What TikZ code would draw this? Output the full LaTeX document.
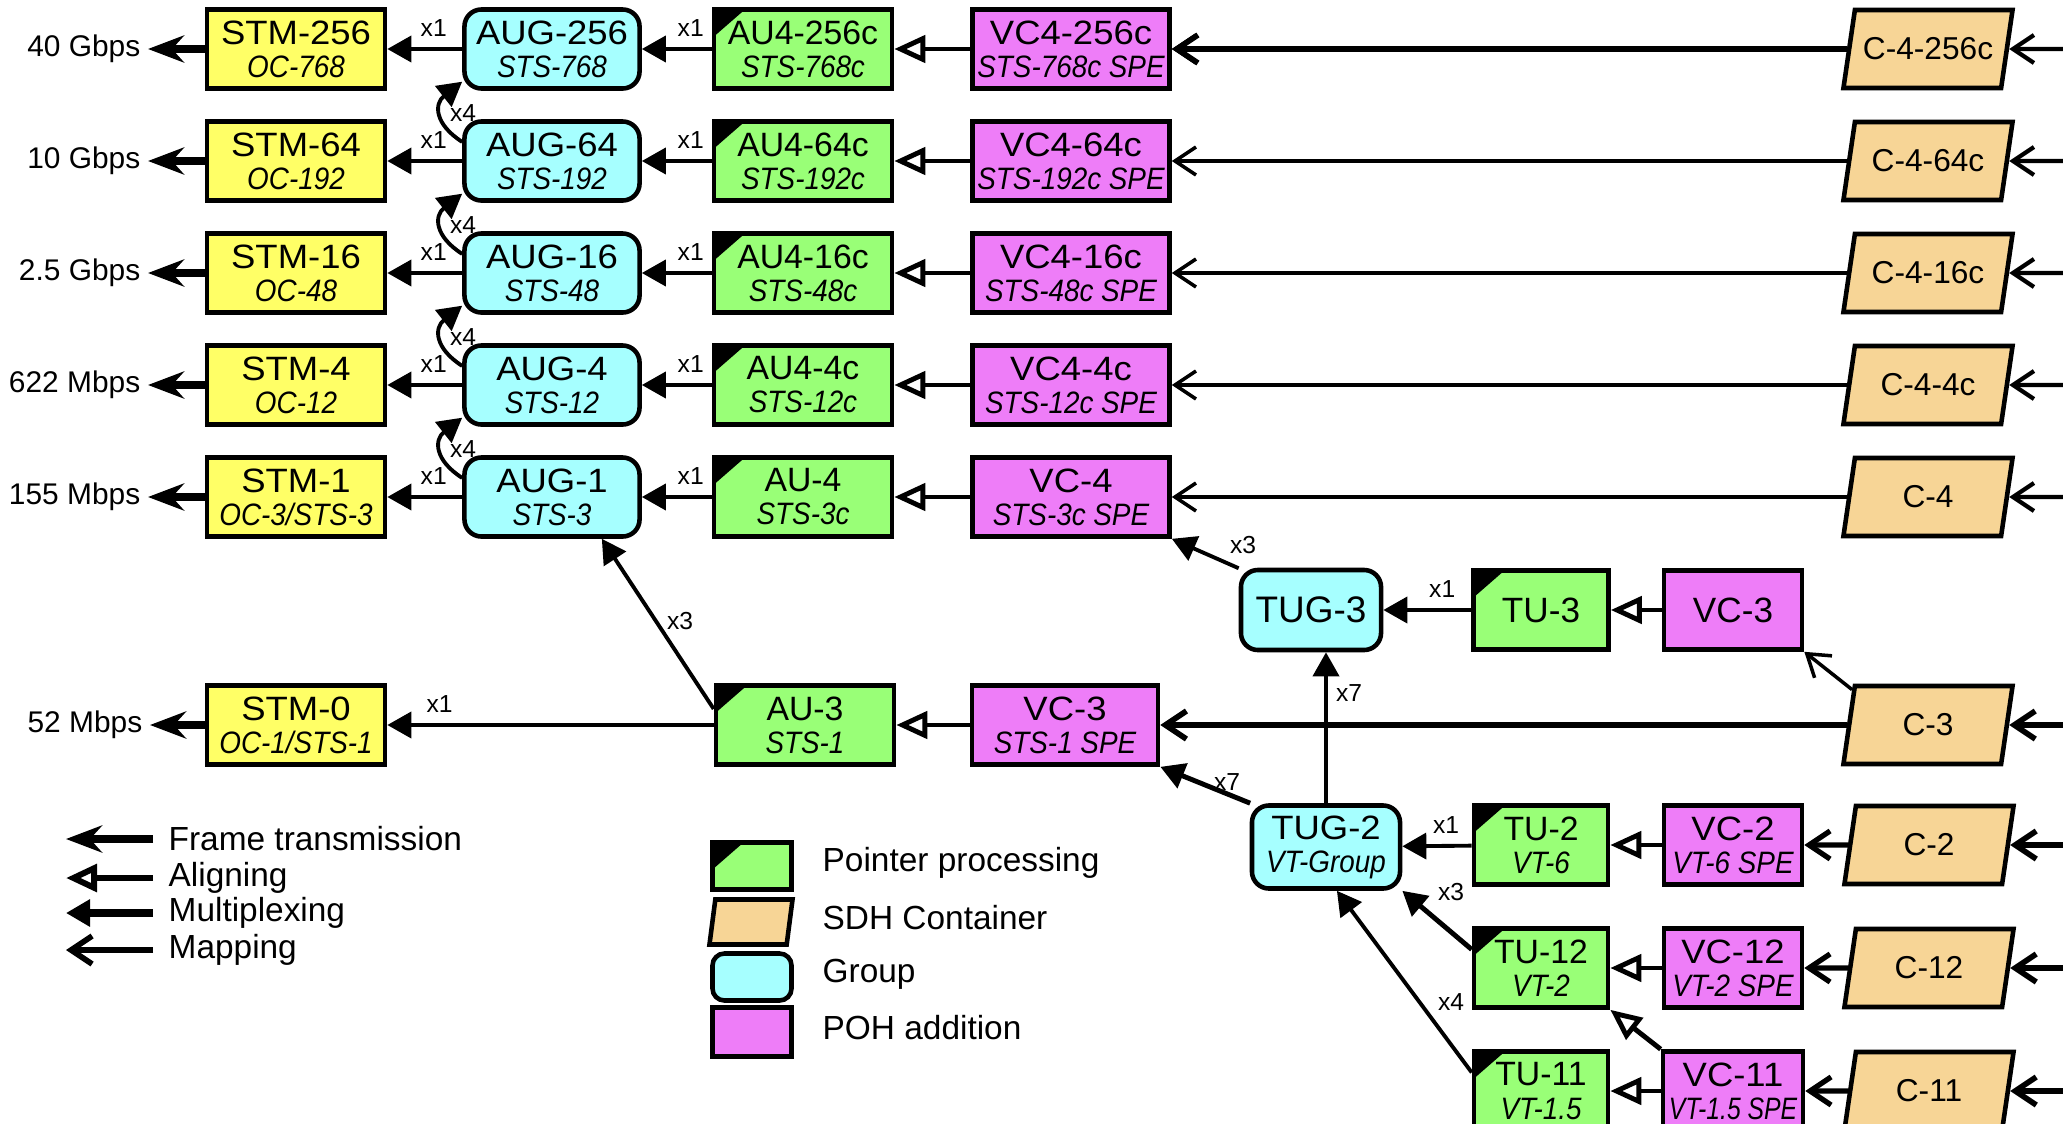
\documentclass[tikz,border=0pt]{standalone}
\usepackage{fontspec}
\setmainfont{Liberation Sans}
\newfontfamily\narrowsans[FakeStretch=0.9]{Liberation Sans}
\newfontfamily\tightsans[FakeStretch=0.8]{Liberation Sans}
\newfontfamily\widesans[FakeStretch=1.08]{Liberation Sans}
\usepackage{xcolor}
\usetikzlibrary{arrows.meta, positioning, shapes.geometric}

\definecolor{stmyellow}{RGB}{255,255,102}
\definecolor{ptrgreen}{RGB}{153,255,119}
\definecolor{grpcyan}{RGB}{166,255,255}
\definecolor{pohpink}{RGB}{238,125,248}
\definecolor{conttan}{RGB}{247,213,150}

\newcommand{\secline}[1]{{\fontsize{8.8}{9.4}\selectfont\narrowsans\itshape #1}}

\tikzset{
  box/.style={draw, line width=1.3pt, inner sep=0pt, align=center,
    minimum height=0.79cm, font=\fontsize{9.6}{9.4}\selectfont\widesans},
  stm/.style={box, fill=stmyellow, minimum width=1.78cm},
  grp/.style={box, fill=grpcyan, rounded corners=0.17cm, minimum width=1.75cm},
  ptr/.style={box, fill=ptrgreen, minimum width=1.78cm,
    font=\fontsize{9.6}{9.4}\selectfont,
    path picture={\fill[black] (path picture bounding box.north west)
      -- ++(0.31cm,0) -- ++(-0.31cm,-0.27cm) -- cycle;}},
  poh/.style={box, fill=pohpink, minimum width=1.97cm},
  cont/.style={trapezium, trapezium left angle=76, trapezium right angle=104,
    trapezium stretches body, draw, line width=1.3pt, fill=conttan,
    minimum height=0.78cm, minimum width=1.69cm, inner xsep=0pt,
    font=\fontsize{9}{10}\selectfont},
  rate/.style={anchor=east, inner sep=2pt, font=\fontsize{8.5}{10}\selectfont},
  mult/.style={inner sep=0pt, font=\fontsize{7}{8}\selectfont},
  legtext/.style={anchor=west, inner sep=0pt, font=\fontsize{9.5}{11}\selectfont},
  framearr/.style={-{Stealth[length=3.6mm, width=2.7mm, inset=1.2mm]}, line width=2.2pt},
  muxarr/.style={-{Triangle[length=2.4mm, width=2.6mm]}, line width=1.1pt},
  alignarr/.style={-{Triangle[open, length=3.1mm, width=2.7mm]}, line width=1.4pt},
  maparr/.style={-{Straight Barb[length=2.1mm, width=2.8mm]}, line width=1pt}
}

\begin{document}
\begin{tikzpicture}[x=0.01cm, y=-0.01cm]
\useasboundingbox (0,0) rectangle (2063,1124);
\clip (0,0) rectangle (2063,1124);
\fill[white] (0,0) rectangle (2063,1124);

% AU-4 rows
\foreach \y/\n/\oc/\rt in {49/256/768/40 Gbps, 161/64/192/10 Gbps,
                           273/16/48/2.5 Gbps, 385/4/12/622 Mbps}{
  \node[rate] (rate\n) at (148,\y) {\rt};
  \node[stm] (stm\n) at (296,\y) {STM-\n\\\secline{OC-\oc}};
  \node[grp] (aug\n) at (552,\y) {AUG-\n\\\secline{STS-\oc}};
  \node[ptr] (au\n) at (803,\y) {AU4-\n c\\\secline{STS-\oc c}};
  \node[poh] (vc\n) at (1071,\y) {VC4-\n c\\\secline{STS-\oc c SPE}};
  \node[cont] (c\n) at (1928,\y) {C-4-\n c};
  \coordinate (in\n) at (2063,\y);
}
\node[rate] (rate1) at (148,497) {155 Mbps};
\node[stm] (stm1) at (296,497) {STM-1\\\secline{OC-3/STS-3}};
\node[grp] (aug1) at (552,497) {AUG-1\\\secline{STS-3}};
\node[ptr] (au1) at (803,497) {AU-4\\\secline{STS-3c}};
\node[poh] (vc1) at (1071,497) {VC-4\\\secline{STS-3c SPE}};
\node[cont] (c1) at (1928,497) {C-4};
\coordinate (in1) at (2063,497);

\foreach \n in {256,64,16,4,1}{
  \draw[framearr] (stm\n) -- (rate\n);
  \draw[muxarr] (aug\n) -- node[mult, pos=0.38, above=3pt] (ma\n) {x1} (stm\n);
  \draw[muxarr] (au\n) -- node[mult, pos=0.3, above=3pt] (mb\n) {x1} (aug\n);
  \draw[alignarr] (vc\n) -- (au\n);
  \draw[maparr] (c\n) -- (vc\n);
  \draw[maparr, line width=1.2pt] (in\n) -- (c\n);
}
\draw[maparr, line width=1.6pt] (c256) -- (vc256);
\foreach \lo/\hi in {64/256, 16/64, 4/16, 1/4}{
  \draw[muxarr] (aug\lo.168) .. controls +(-28,-18) and +(-28,22) .. (aug\hi.200)
    node[mult, pos=0.5, right=2pt] (mq\lo) {x4};
}

% AU-3 / TUG-3 part
\node[rate] (rate0) at (150,725) {52 Mbps};
\node[stm] (stm0) at (296,725) {STM-0\\\secline{OC-1/STS-1}};
\node[ptr] (au3) at (805,725) {AU-3\\\secline{STS-1}};
\node[poh, minimum width=1.86cm] (vc3s) at (1065,725) {VC-3\\\secline{STS-1 SPE}};
\node[cont] (c3) at (1928,725) {C-3};
\coordinate (in3) at (2063,725);

\node[grp, minimum width=1.40cm, minimum height=0.80cm,
  font=\fontsize{10.5}{11}\selectfont] (tug3) at (1311,610) {TUG-3};
\node[ptr, minimum width=1.35cm, font=\fontsize{10}{11}\selectfont] (tu3) at (1541,610) {TU-3};
\node[poh, minimum width=1.38cm, font=\fontsize{10}{11}\selectfont] (vc3t) at (1733,610) {VC-3};

\draw[framearr] (stm0) -- (rate0);
\draw[muxarr] (au3) -- node[mult, pos=0.84, above=3pt] (ma0) {x1} (stm0);
\draw[muxarr] (au3.170) -- (aug1.-40);
\node[mult] (m3a) at (680,621) {x3};
\draw[alignarr] (vc3s) -- (au3);
\draw[maparr, line width=1.6pt] (c3) -- (vc3s);
\draw[maparr, line width=1.6pt] (in3) -- (c3);
\draw[muxarr] (tug3.150) -- (vc1.south east);
\node[mult] (m3b) at (1243,545) {x3};
\draw[muxarr] (tu3) -- node[mult, pos=0.33, above=3pt] (mt3) {x1} (tug3);
\draw[alignarr] (vc3t) -- (tu3);
\draw[maparr] (c3.155) -- (vc3t.south east);

% TUG-2 part
\node[grp, minimum width=1.48cm, minimum height=0.83cm] (tug2) at (1326,847)
  {TUG-2\\\secline{VT-Group}};
\foreach \y/\t/\vt in {845/2/6, 968/12/2}{
  \node[ptr, minimum width=1.34cm] (tu\t) at (1541,\y) {TU-\t\\\secline{VT-\vt}};
  \node[poh, minimum width=1.38cm] (vc\t) at (1733,\y) {VC-\t\\\secline{VT-\vt\ SPE}};
}
\node[ptr, minimum width=1.34cm] (tu11) at (1541,1091) {TU-11\\\secline{VT-1.5}};
\node[poh, minimum width=1.40cm] (vc11) at (1733,1091)
  {VC-11\\{\fontsize{8.8}{9.4}\selectfont\tightsans\itshape VT-1.5 SPE}};
\foreach \y/\t in {845/2, 968/12, 1091/11}{
  \node[cont] (c\t) at (1929,\y) {C-\t};
  \coordinate (in\t) at (2063,\y);
  \draw[alignarr] (vc\t) -- (tu\t);
  \draw[maparr, line width=1.5pt] (c\t) -- (vc\t);
  \draw[maparr, line width=1.6pt] (in\t) -- (c\t);
}
\draw[muxarr] (tug2.north) -- (tug2.north |- tug3.south);
\node[mult] (m7a) at (1349,693) {x7};
\draw[muxarr, line width=1.4pt] (tug2.150) -- (vc3s.south east);
\node[mult] (m7b) at (1227,782) {x7};
\draw[muxarr] (tu2) -- node[mult, pos=0.37, above=3pt] (mt2) {x1} (tug2);
\draw[muxarr, line width=1.4pt] (tu12.165) -- (tug2.south east);
\node[mult] (m3c) at (1451,892) {x3};
\draw[muxarr] (tu11.165) -- (tug2.-76);
\node[mult] (m4c) at (1451,1002) {x4};
\draw[alignarr] (vc11.north west) -- (tu12.south east);

% legend, arrows
\foreach \y/\k in {839/ft, 878/al, 913/mx, 950/mp}{
  \coordinate (tail\k) at (153,\y);
  \coordinate (tip\k) at (66,\y);
}
\node[legtext] (lgft) at (168,839) {Frame transmission};
\node[legtext] (lgal) at (168,878) {Aligning};
\node[legtext] (lgmx) at (168,913) {Multiplexing};
\node[legtext] (lgmp) at (168,950) {Mapping};
\draw[framearr] (tailft) -- (tipft);
\draw[alignarr, line width=1.7pt] (tailal) -- (tipal);
\draw[muxarr, line width=2pt] (tailmx) -- (tipmx);
\draw[maparr, line width=1.6pt] (tailmp) -- (tipmp);

% legend, boxes
\node[ptr, minimum width=0.79cm, minimum height=0.47cm] (kptr) at (752,866) {};
\node[cont, minimum width=0.83cm, minimum height=0.45cm] (kcont) at (751,922) {};
\node[grp, minimum width=0.79cm, minimum height=0.47cm, rounded corners=0.12cm] (kgrp) at (752,977) {};
\node[poh, minimum width=0.79cm, minimum height=0.49cm] (kpoh) at (752,1032) {};
\node[legtext] (lgptr) at (822,863) {Pointer processing};
\node[legtext] (lgcont) at (822,918) {SDH Container};
\node[legtext] (lggrp) at (822,974) {Group};
\node[legtext] (lgpoh) at (822,1028) {POH addition};
\end{tikzpicture}
\end{document}
